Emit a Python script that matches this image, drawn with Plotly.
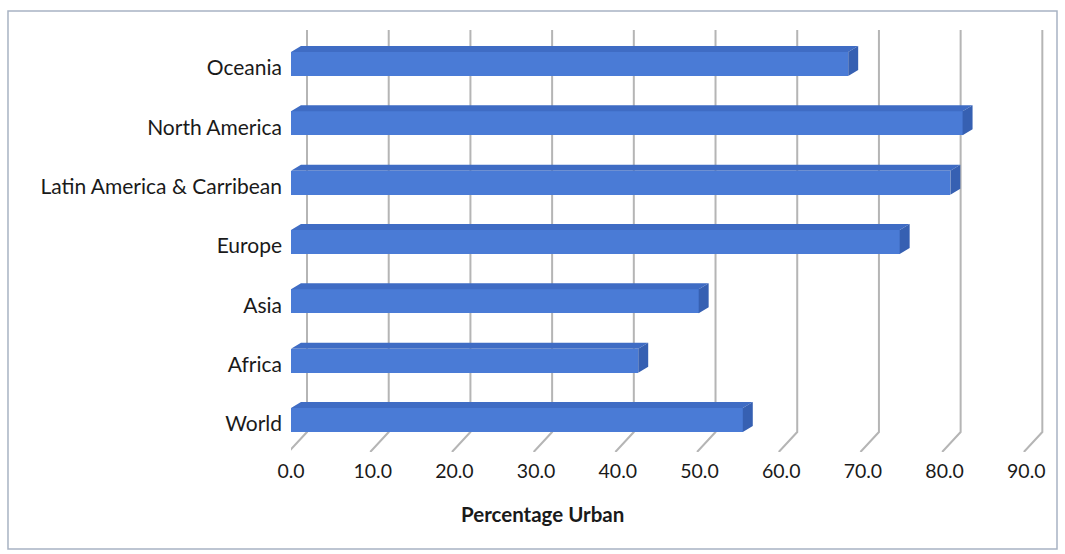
import plotly.graph_objects as go

# Urban population share by region (percent), bottom row first
regions = ["World", "Africa", "Asia", "Europe",
           "Latin America & Carribean", "North America", "Oceania"]
pct_urban = [55.3, 42.5, 49.9, 74.5, 80.7, 82.2, 68.2]
x_ticks = [0, 10, 20, 30, 40, 50, 60, 70, 80, 90]
x_tick_labels = [f"{t:.1f}" for t in x_ticks]

# Pseudo-3D geometry, in data units
BAR_H = 0.405        # front face height
BAR_SHIFT = 0.067    # front face centre relative to category slot
DEPTH_X = 1.22       # bar depth, horizontal offset
DEPTH_Y = 0.101      # bar depth, vertical offset
WALL_X = 1.96        # back wall offset of gridlines
WALL_TOP = 6.64
WALL_FLOOR = -0.135
FRONT_FLOOR = -0.472
FRONT_X = -0.3

FRONT = "#4a7bd6"
TOP = "#3f6cc4"
SIDE = "#3660b2"
GRID = "#b5b5b5"

fig = go.Figure()

ypos = list(range(len(regions)))
centres = [i + BAR_SHIFT for i in ypos]

# front faces
fig.add_trace(go.Bar(x=pct_urban, y=centres, orientation="h", width=BAR_H,
                     marker=dict(color=FRONT, line=dict(width=0)),
                     hovertext=regions, showlegend=False))

# top and end faces
tx, ty, sx, sy = [], [], [], []
for v, c in zip(pct_urban, centres):
    yt = c + BAR_H / 2
    yb = c - BAR_H / 2
    tx += [0, v, v + DEPTH_X, DEPTH_X, 0, None]
    ty += [yt, yt, yt + DEPTH_Y, yt + DEPTH_Y, yt, None]
    sx += [v, v + DEPTH_X, v + DEPTH_X, v, v, None]
    sy += [yt, yt + DEPTH_Y, yb + DEPTH_Y, yb, yt, None]
fig.add_trace(go.Scatter(x=tx, y=ty, mode="lines", fill="toself",
                         fillcolor=TOP, line=dict(width=0, color=TOP),
                         hoverinfo="skip", showlegend=False))
fig.add_trace(go.Scatter(x=sx, y=sy, mode="lines", fill="toself",
                         fillcolor=SIDE, line=dict(width=0, color=SIDE),
                         hoverinfo="skip", showlegend=False))

# back-wall gridlines bending onto the floor, kept behind the bars
grid_shapes = []
for t in x_ticks:
    path = (f"M {t + WALL_X},{WALL_TOP} L {t + WALL_X},{WALL_FLOOR} "
            f"L {t + FRONT_X},{FRONT_FLOOR}")
    grid_shapes.append(dict(type="path", xref="x", yref="y", path=path,
                            line=dict(color=GRID, width=2), layer="below"))

font_family = "Lato, 'Open Sans', sans-serif"

frame = dict(type="rect", xref="paper", yref="paper",
             x0=-0.3685, x1=0.9974, y0=-0.2288, y1=1.040,
             line=dict(color="#a8b3c3", width=1.5), layer="below")

fig.update_layout(
    width=1065, height=554,
    margin=dict(l=291, r=6, t=28, b=102),
    paper_bgcolor="white", plot_bgcolor="white",
    font=dict(family=font_family, size=20, color="#1a1a1a"),
    bargap=0,
    xaxis=dict(range=[0, 94], tickvals=x_ticks, ticktext=x_tick_labels,
               showgrid=False, zeroline=False, showline=False, ticks="",
               ticklabelstandoff=5, tickfont=dict(size=19.5), fixedrange=True),
    yaxis=dict(range=[FRONT_FLOOR, 6.674], tickvals=ypos, ticktext=regions,
               showgrid=False, zeroline=False, showline=False, ticks="",
               ticklabelstandoff=8, tickfont=dict(size=21), fixedrange=True),
    annotations=[dict(text="<b>Percentage Urban</b>", xref="paper", yref="paper",
                      x=0.327, y=-0.146, xanchor="center", yanchor="middle",
                      showarrow=False, font=dict(size=20.5, color="#1a1a1a"))],
    shapes=grid_shapes + [frame],
)

fig.write_html("out.html")
